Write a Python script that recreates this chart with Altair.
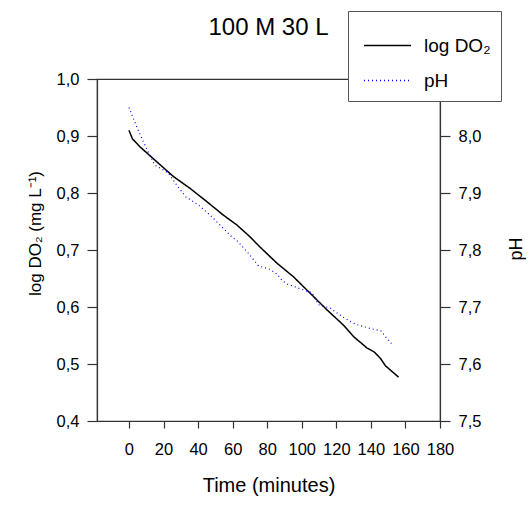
import altair as alt
import pandas as pd

title_text = "100 M 30 L"
series_names = ["log DO₂", "pH"]

do_time = [0, 2, 6.4, 16, 25.7, 35.4, 45, 54.7, 62.4, 70.1, 75.9, 85.6, 95.2,
           104.9, 114.6, 124.2, 130, 137.8, 142, 145.5, 148.4, 156]
do_vals = [0.910, 0.895, 0.881, 0.855, 0.829, 0.808, 0.785, 0.761, 0.744, 0.723,
           0.705, 0.677, 0.653, 0.624, 0.595, 0.568, 0.548, 0.528, 0.521, 0.510,
           0.497, 0.477]

ph_time = [0, 1.5, 4.5, 7.9, 11.2, 15, 22.8, 27.6, 33, 40.2, 47, 56.6, 59.5, 63,
           69.2, 75, 81.7, 85.6, 88.5, 91.8, 99.1, 105.9, 109.7, 116.5, 123.9,
           131, 138.7, 145.9, 149, 151.9]
ph_vals = [8.050, 8.039, 8.016, 7.993, 7.971, 7.949, 7.935, 7.914, 7.893, 7.879,
           7.861, 7.832, 7.823, 7.815, 7.794, 7.772, 7.766, 7.758, 7.747, 7.740,
           7.732, 7.725, 7.704, 7.698, 7.682, 7.670, 7.663, 7.658, 7.646, 7.636]

x_ticks = [0, 20, 40, 60, 80, 100, 120, 140, 160, 180]
do_ticks = [0.4, 0.5, 0.6, 0.7, 0.8, 0.9, 1.0]
ph_ticks = [7.5, 7.6, 7.7, 7.8, 7.9, 8.0]

df_do = pd.DataFrame({"t": do_time, "v": do_vals, "series": series_names[0]})
df_ph = pd.DataFrame({"t": ph_time, "v": ph_vals, "series": series_names[1]})

FONT = "Liberation Sans"
label_expr = "replace(format(datum.value, '.1f'), '.', ',')"

legend = alt.Legend(
    orient="none", legendX=251, legendY=-68, title=None,
    fillColor="white", strokeColor="#555", padding=10,
    symbolType="stroke", symbolSize=2209, symbolStrokeWidth=1.5,
    symbolOffset=5, labelOffset=12, rowPadding=-16,
    labelFont=FONT, labelFontSize=19, labelColor="black",
)
color = alt.Color("series:N", scale=alt.Scale(domain=series_names, range=["black", "blue"]),
                  legend=legend)
dash = alt.StrokeDash("series:N", scale=alt.Scale(domain=series_names, range=[[1, 0], [1, 3]]),
                      legend=legend)

x_enc = alt.X("t:Q", scale=alt.Scale(domain=[-18.5, 180], nice=False, zero=False),
              axis=alt.Axis(title="Time (minutes)", values=x_ticks, tickSize=7, labelPadding=13,
                            labelOverlap=False, labelBound=False, labelFlush=False,
                            titleFontSize=20, titleBaseline="alphabetic", titleY=70))

do_line = alt.Chart(df_do).mark_line(strokeWidth=1.5).encode(
    x=x_enc,
    y=alt.Y("v:Q", scale=alt.Scale(domain=[0.4, 1.0], nice=False, zero=False),
            axis=alt.Axis(title="log DO₂ (mg L⁻¹)", values=do_ticks, labelExpr=label_expr,
                          tickSize=10, labelPadding=8, titleAngle=270, titleX=-56.5, titleY=154,
                          labelOverlap=False,
                          titleBaseline="alphabetic", titleAlign="center", titleFontSize=17)),
    color=color, strokeDash=dash,
)

ph_line = alt.Chart(df_ph).mark_line(strokeWidth=1.2).encode(
    x=x_enc,
    y=alt.Y("v:Q", scale=alt.Scale(domain=[7.5, 8.1], nice=False, zero=False),
            axis=alt.Axis(title="pH", orient="right", values=ph_ticks, labelExpr=label_expr,
                          tickSize=10, labelPadding=8, titleAngle=270, titleX=81, titleY=169.5,
                          labelOverlap=False,
                          titleBaseline="alphabetic", titleAlign="center", titleFontSize=18)),
    color=color, strokeDash=dash,
)

chart = alt.layer(do_line, ph_line).resolve_scale(y="independent").properties(
    width=343, height=342,
    autosize=alt.AutoSizeParams(type="none"),
    padding={"left": 97, "top": 79, "right": 89, "bottom": 87},
    title=alt.TitleParams(title_text, font=FONT, fontSize=24, fontWeight="normal",
                          anchor="middle", baseline="alphabetic", offset=0, dy=48,
                          color="black"),
).configure_axis(
    grid=False, domainColor="#333", tickColor="#333", domainWidth=1.2, tickWidth=1.2,
    labelFont=FONT, labelFontSize=16.5, labelColor="black",
    titleFont=FONT, titleFontWeight="normal", titleColor="black",
).configure_view(stroke="#333", strokeWidth=1.2)

chart.save("out.html", embed_options={"renderer": "svg", "actions": False})
